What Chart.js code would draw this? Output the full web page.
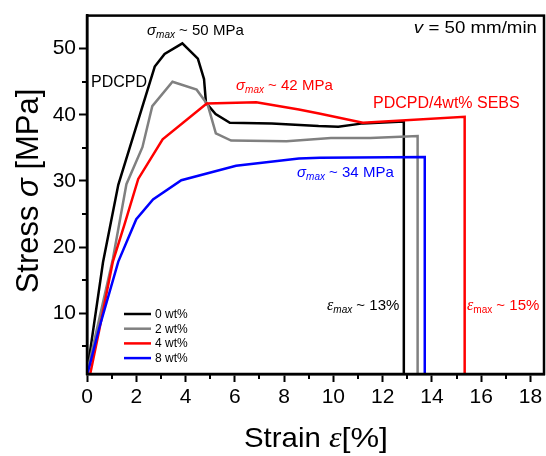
<!DOCTYPE html>
<html>
<head>
<meta charset="utf-8">
<script src="https://cdn.jsdelivr.net/npm/chart.js@4.4.1/dist/chart.umd.min.js"></script>
<style>
  html, body { margin: 0; padding: 0; background: #fff; }
  #wrap { width: 546px; height: 456px; }
</style>
</head>
<body>
<div id="wrap"><canvas id="c" width="546" height="456"></canvas></div>
<script>
// Tensile curves of PDCPD with 0/2/4/8 wt% SEBS (strain in %, stress in MPa)
const seriesLabels = ['0 wt%', '2 wt%', '4 wt%', '8 wt%'];
const seriesColors = ['#000000', '#808080', '#ff0000', '#0000ff'];

const strain0 = [0, 0.65, 1.27, 2.28, 2.75, 3.15, 3.87, 4.5, 4.75, 4.83, 5.22, 5.8, 7.5, 9.4, 10.2, 11.2, 12.86, 12.86];
const stress0 = [1.0, 17.7, 29.4, 41.6, 47.3, 49.2, 50.8, 48.5, 45.4, 41.8, 40.1, 38.8, 38.7, 38.3, 38.2, 38.7, 39.0, 0];

const strain2 = [0, 1.05, 1.6, 2.25, 2.65, 3.47, 4.45, 4.9, 5.23, 5.85, 8.1, 9.9, 11.5, 13.42, 13.42];
const stress2 = [1.0, 18.2, 29.5, 35.1, 41.3, 45.0, 43.8, 41.5, 37.2, 36.1, 36.0, 36.5, 36.5, 36.8, 0];

const strain4 = [0.13, 0.5, 1.05, 1.52, 2.08, 3.07, 4.86, 6.87, 8.6, 9.42, 11.2, 15.33, 15.33];
const stress4 = [0.8, 7.5, 17.8, 23.4, 30.3, 36.3, 41.7, 41.9, 40.8, 40.2, 38.8, 39.7, 0];

const strain8 = [0.03, 0.5, 1.27, 2.0, 2.68, 3.83, 6.05, 8.6, 9.45, 13.71, 13.71];
const stress8 = [1.0, 7.8, 17.8, 24.2, 27.2, 30.1, 32.3, 33.4, 33.5, 33.6, 0];

const xTicks = [0, 2, 4, 6, 8, 10, 12, 14, 16, 18];
const xMinorTicks = [1, 3, 5, 7, 9, 11, 13, 15, 17];
const yTicks = [10, 20, 30, 40, 50];
const yMinorTicks = [5, 15, 25, 35, 45];

const SANS = '"Liberation Sans", Arial, sans-serif';
const SERIF = '"Liberation Serif", "Times New Roman", serif';

const pairs = (xs, ys) => xs.map((x, i) => ({ x: x, y: ys[i] }));
const curves = [pairs(strain0, stress0), pairs(strain2, stress2), pairs(strain4, stress4), pairs(strain8, stress8)];

// Text runs: [text, font, baseline shift, horizontal stretch]
const sub = (t) => [t, 'italic 10px ' + SANS, 3];
const notes = [
  { x: 147, y: 35, color: '#000', runs: [['σ', 'italic 15px ' + SANS, 0], sub('max'), [' ~ 50 MPa', '15px ' + SANS, 0]] },
  { x: 91, y: 87, color: '#000', runs: [['PDCPD', '16px ' + SANS, 0]] },
  { x: 236, y: 90, color: '#ff0000', runs: [['σ', 'italic 15px ' + SANS, 0], sub('max'), [' ~ 42 MPa', '15px ' + SANS, 0]] },
  { x: 373, y: 108, color: '#ff0000', runs: [['PDCPD/4wt% SEBS', '16px ' + SANS, 0]] },
  { x: 297, y: 177, color: '#0000ff', runs: [['σ', 'italic 15px ' + SANS, 0], sub('max'), [' ~ 34 MPa', '15px ' + SANS, 0]] },
  { x: 537, y: 33, color: '#000', align: 'right', runs: [['v', 'italic 17px ' + SANS, 0, 1.1], [' = 50 mm/min', '17px ' + SANS, 0, 1.1]] },
  { x: 327, y: 310, color: '#000', runs: [['ε', 'italic 16px ' + SERIF, 0], sub('max'), [' ~ 13%', '15px ' + SANS, 0]] },
  { x: 467, y: 310, color: '#ff0000', runs: [['ε', 'italic 16px ' + SERIF, 0], ['max', '10px ' + SANS, 3], [' ~ 15%', '15px ' + SANS, 0]] }
];

function runWidth(ctx, r) {
  ctx.font = r[1];
  return ctx.measureText(r[0]).width * (r[3] || 1);
}
function drawRuns(ctx, runs, x, y, align) {
  const w = runs.reduce((s, r) => s + runWidth(ctx, r), 0);
  let cx = x;
  if (align === 'right') cx = x - w;
  else if (align === 'center') cx = x - w / 2;
  ctx.textAlign = 'left';
  ctx.textBaseline = 'alphabetic';
  runs.forEach(r => {
    const k = r[3] || 1;
    ctx.font = r[1];
    ctx.save();
    ctx.translate(cx, y + r[2]);
    ctx.scale(k, 1);
    ctx.fillText(r[0], 0, 0);
    ctx.restore();
    cx += runWidth(ctx, r);
  });
}

const decorations = {
  id: 'decorations',
  afterDraw(chart) {
    const ctx = chart.ctx;
    const a = chart.chartArea;
    const xs = chart.scales.x, ys = chart.scales.y;
    ctx.save();
    // frame
    ctx.strokeStyle = '#000';
    ctx.lineWidth = 2.5;
    ctx.strokeRect(a.left, a.top, a.right - a.left, a.bottom - a.top);
    // minor ticks
    ctx.lineWidth = 2;
    ctx.beginPath();
    xMinorTicks.forEach(v => {
      const px = Math.round(xs.getPixelForValue(v));
      ctx.moveTo(px, a.bottom); ctx.lineTo(px, a.bottom + 5);
    });
    yMinorTicks.forEach(v => {
      const py = Math.round(ys.getPixelForValue(v));
      ctx.moveTo(a.left, py); ctx.lineTo(a.left - 5, py);
    });
    ctx.stroke();

    // annotations
    notes.forEach(n => { ctx.fillStyle = n.color; drawRuns(ctx, n.runs, n.x, n.y, n.align); });

    // legend
    chart.data.datasets.forEach((ds, i) => {
      const y = 314 + i * 14.7;
      ctx.strokeStyle = ds.borderColor;
      ctx.lineWidth = 2.5;
      ctx.beginPath(); ctx.moveTo(124, y); ctx.lineTo(151, y); ctx.stroke();
      ctx.fillStyle = '#000';
      ctx.font = '12px ' + SANS;
      ctx.textBaseline = 'middle';
      ctx.textAlign = 'left';
      ctx.fillText(ds.label, 155, y + 0.5);
    });

    // axis titles
    ctx.fillStyle = '#000';
    drawRuns(ctx, [['Strain ', '28px ' + SANS, 0, 1.05], ['ε', 'italic 29px ' + SERIF, 0, 1.1], ['[%]', '28px ' + SANS, 0, 1.15]], 316, 446.5, 'center');
    ctx.translate(37.5, 191);
    ctx.rotate(-Math.PI / 2);
    drawRuns(ctx, [['Stress ', '31px ' + SANS, 0], ['σ', 'italic 31px ' + SANS, 0], [' [MPa]', '31px ' + SANS, 0]], 0, 0, 'center');
    ctx.restore();
  }
};

const axisCommon = {
  type: 'linear',
  grid: { drawOnChartArea: false, drawTicks: true, tickLength: 8, tickWidth: 2, tickColor: '#000' },
  border: { display: true, color: '#000', width: 2.5 },
  ticks: { color: '#000', font: { family: SANS, size: 21 }, autoSkip: false, maxRotation: 0 }
};

new Chart(document.getElementById('c'), {
  type: 'scatter',
  data: {
    datasets: curves.map((d, i) => ({
      label: seriesLabels[i],
      data: d,
      showLine: true,
      borderColor: seriesColors[i],
      backgroundColor: seriesColors[i],
      borderWidth: 2.5,
      pointRadius: 0,
      tension: 0,
      order: 3 - i
    }))
  },
  options: {
    responsive: false,
    animation: false,
    devicePixelRatio: 1,
    layout: { padding: { top: 11, right: 2, left: 0, bottom: 0 } },
    plugins: { legend: { display: false }, tooltip: { enabled: false } },
    scales: {
      x: Object.assign({}, axisCommon, {
        min: 0, max: 18.55,
        afterBuildTicks: s => { s.ticks = xTicks.map(v => ({ value: v })); },
        afterFit: s => { s.height = 82; },
        ticks: Object.assign({}, axisCommon.ticks, { padding: 3 })
      }),
      y: Object.assign({}, axisCommon, {
        min: 0.8, max: 55,
        afterBuildTicks: s => { s.ticks = yTicks.map(v => ({ value: v })); },
        afterFit: s => { s.width = 87; },
        ticks: Object.assign({}, axisCommon.ticks, { padding: 3 })
      })
    }
  },
  plugins: [decorations]
});
</script>
</body>
</html>
